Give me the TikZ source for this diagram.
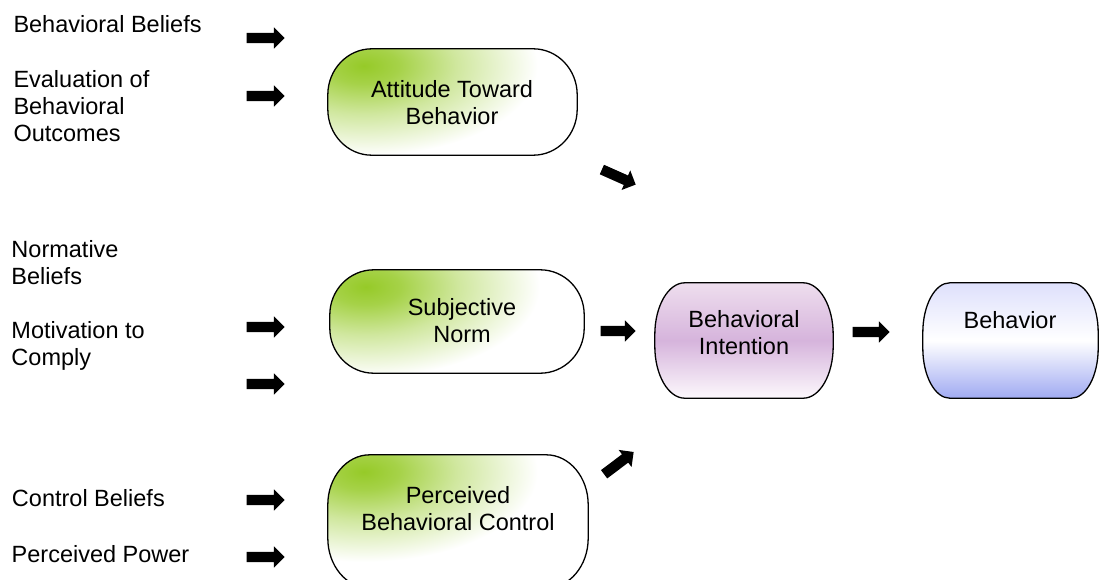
\documentclass[tikz,border=0pt]{standalone}
\usepackage{fontspec}
\setmainfont{Liberation Sans}
\usetikzlibrary{shapes.arrows,calc}
\definecolor{grn}{RGB}{150,202,40}
\definecolor{ptop}{RGB}{238,222,238}
\definecolor{pmid}{RGB}{214,180,220}
\definecolor{pbot}{RGB}{252,248,252}
\definecolor{btop}{RGB}{222,224,252}
\definecolor{bbot}{RGB}{160,170,242}
\pgfdeclareradialshading{grnshade}{\pgfpoint{0bp}{0bp}}{%
  color(0bp)=(grn); color(3bp)=(grn!85!white); color(8bp)=(grn!45!white); color(15bp)=(white); color(50bp)=(white)}
% elliptical-corner box drawn round a named (invisible) node
\newcommand\ellbox[4]{%
  \draw[#4] ([xshift=#2pt]#1.north west) -- ([xshift=-#2pt]#1.north east)
    arc[start angle=90,end angle=0,x radius=#2pt,y radius=#3pt]
    -- ([yshift=#3pt]#1.south east)
    arc[start angle=0,end angle=-90,x radius=#2pt,y radius=#3pt]
    -- ([xshift=#2pt]#1.south west)
    arc[start angle=270,end angle=180,x radius=#2pt,y radius=#3pt]
    -- ([yshift=-#3pt]#1.north west)
    arc[start angle=180,end angle=90,x radius=#2pt,y radius=#3pt] -- cycle;}
\begin{document}
\begin{tikzpicture}[x=1pt,y=1pt,
  frame/.style={rectangle,draw=none,inner sep=0pt},
  outline/.style={line width=1.3pt,draw=black},
  greenbox/.style={outline,fill=white,path picture={
     \shade[shading=grnshade]
       ($(path picture bounding box.north west)+(36,-17)$) ellipse [x radius=290, y radius=150];}},
  purplebox/.style={outline,top color=ptop,bottom color=pbot,middle color=pmid},
  bluebox/.style={outline,top color=btop,bottom color=bbot,middle color=white},
  lefttext/.style={font=\fontsize{23.5}{27}\selectfont,inner sep=0pt,align=left,anchor=north west},
  boxtext/.style={font=\fontsize{23.5}{27}\selectfont,inner sep=0pt,align=center,anchor=north},
  blockarrow/.style={single arrow,fill=black,draw=none,inner xsep=0pt,inner ysep=5pt,
     minimum height=37pt,single arrow head extend=5.5pt,
     single arrow head indent=0pt}]
\useasboundingbox (0,0) rectangle (1103,-579);

% boxes
\node[frame,minimum width=249pt,minimum height=106pt] (att) at (452.5,-102) {};
\ellbox{att}{44}{46}{greenbox}
\node[frame,minimum width=254pt,minimum height=103pt] (sn) at (457,-321.5) {};
\ellbox{sn}{44}{45}{greenbox}
\node[frame,minimum width=260pt,minimum height=133pt] (pbc) at (458,-521.5) {};
\ellbox{pbc}{42}{50}{greenbox}
\node[frame,minimum width=178pt,minimum height=115pt] (bi) at (744,-340.5) {};
\ellbox{bi}{30}{52}{purplebox}
\node[frame,minimum width=175pt,minimum height=115pt] (beh) at (1010.5,-340.5) {};
\ellbox{beh}{27}{50}{bluebox}

% box texts
\node[boxtext] (attt) at (452,-79.9) {Attitude Toward\\Behavior};
\node[boxtext] (snt) at (462,-298.2) {Subjective\\Norm};
\node[boxtext] (pbct) at (458,-486.5) {Perceived\\Behavioral Control};
\node[boxtext] (bit) at (744,-309.9) {Behavioral\\Intention};
\node[boxtext] (beht) at (1010,-311.5) {Behavior};

% left texts
\node[lefttext] (bb) at (13.3,-14.9) {Behavioral Beliefs};
\node[lefttext] (ebo) at (13.3,-70.5) {Evaluation of\\Behavioral\\Outcomes};
\node[lefttext] (nb) at (11.3,-239.9) {Normative\\Beliefs};
\node[lefttext] (mc) at (11.3,-321.5) {Motivation to\\Comply};
\node[lefttext] (cb) at (11.8,-488.9) {Control Beliefs};
\node[lefttext] (pp) at (11.5,-544.9) {Perceived Power};

% block arrows
\node[blockarrow,minimum height=38pt] (a1) at (263,-38) {};
\node[blockarrow,minimum height=38pt] (a2) at (263,-96) {};
\node[blockarrow,minimum height=38pt] (a3) at (263,-327) {};
\node[blockarrow,minimum height=38pt] (a4) at (263,-384) {};
\node[blockarrow,minimum height=38pt] (a5) at (263,-500) {};
\node[blockarrow,minimum height=38pt] (a6) at (263,-557) {};
\node[blockarrow,minimum height=35pt] (a7) at (615.5,-331) {};
\node[blockarrow] (a8) at (868.5,-332) {};
\node[blockarrow,rotate=-24] (a9) at (616.4,-176) {};
\node[blockarrow,rotate=37] (a10) at (616.8,-464.7) {};
\end{tikzpicture}
\end{document}
